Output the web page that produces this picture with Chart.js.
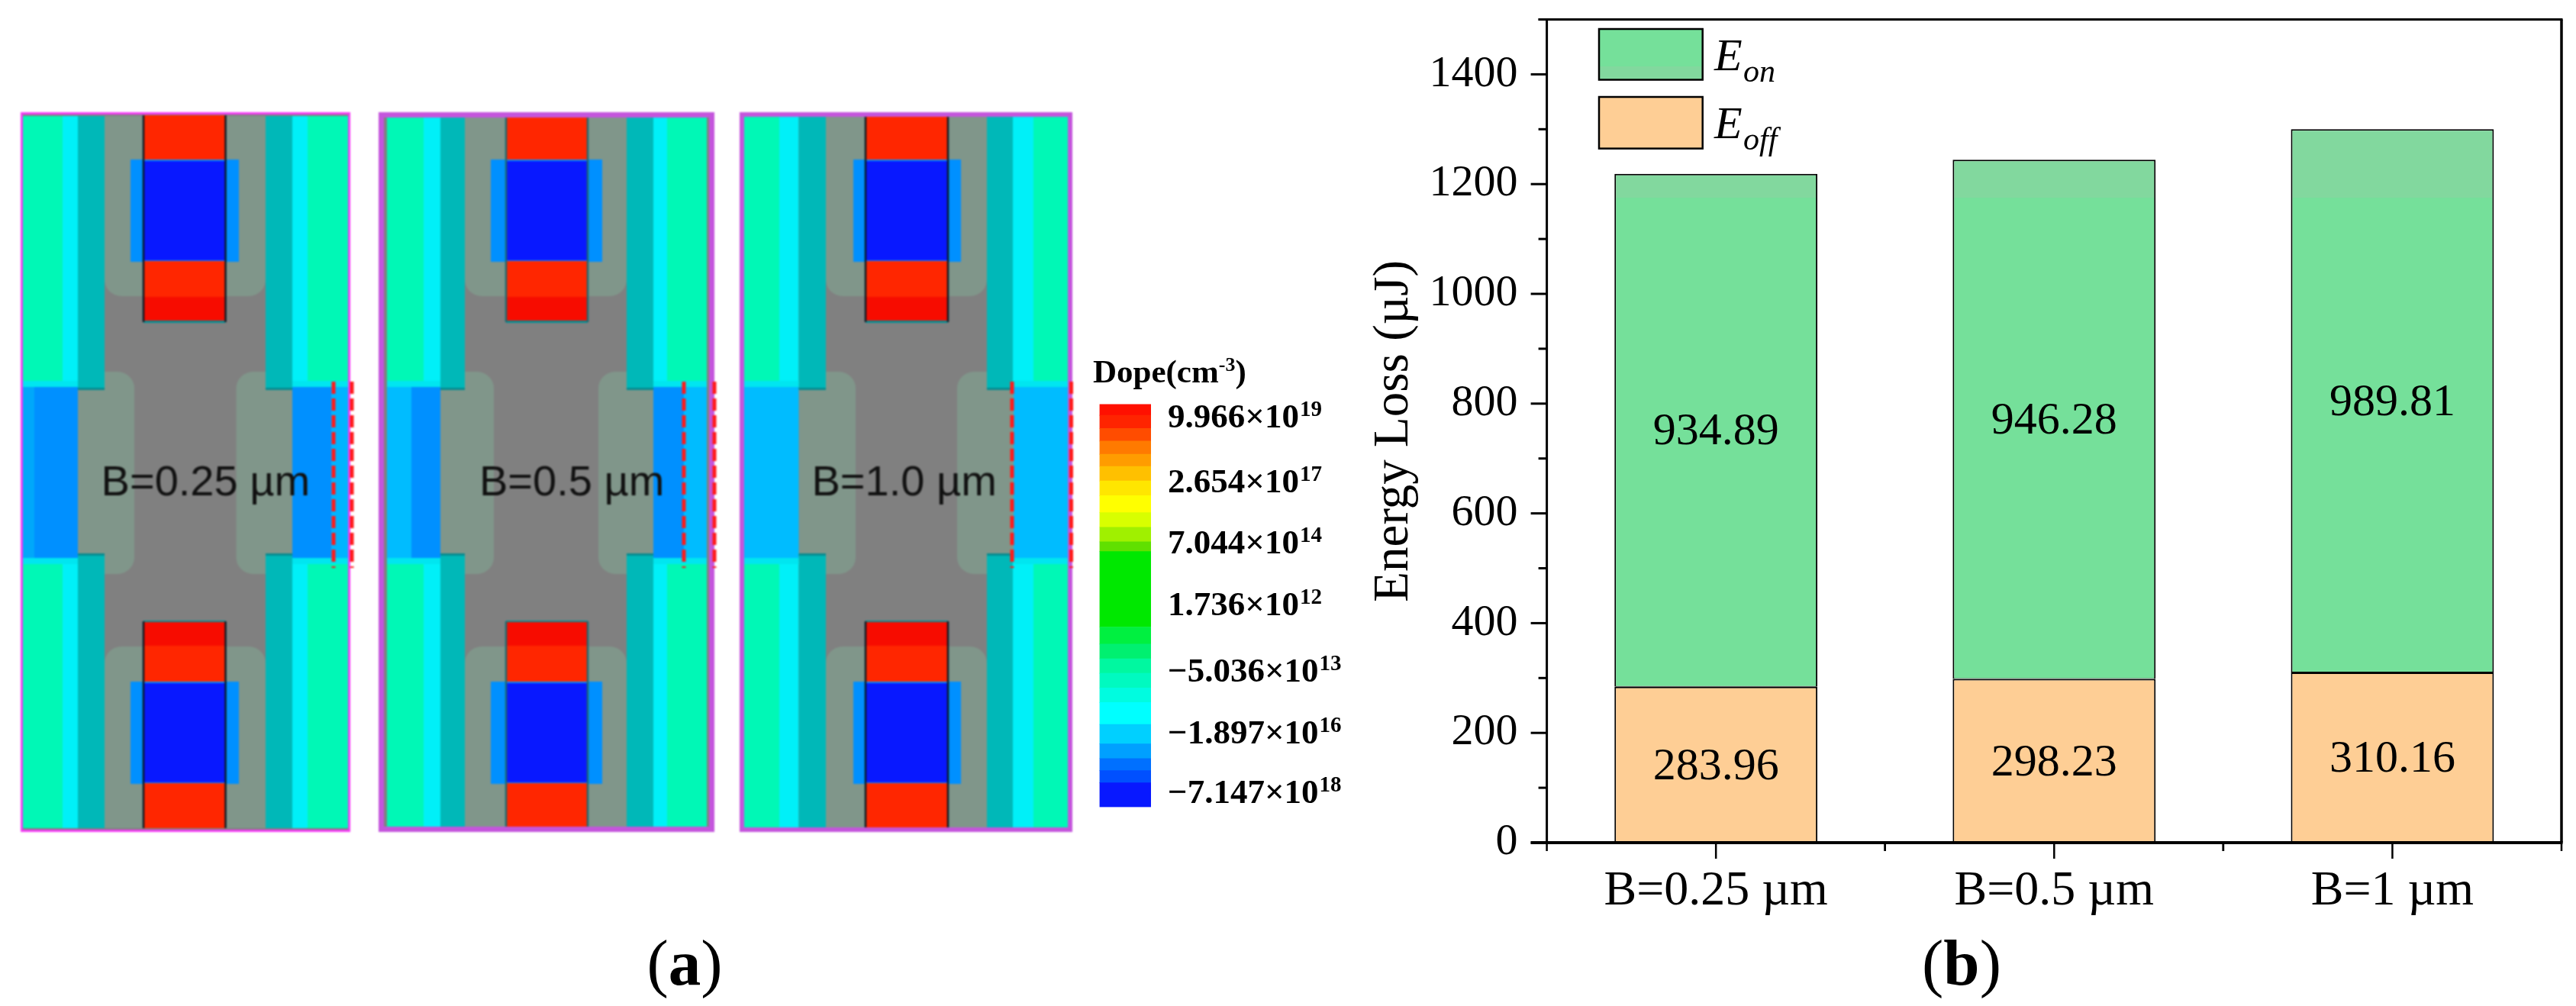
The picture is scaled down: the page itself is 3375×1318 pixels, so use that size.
<!DOCTYPE html>
<html>
<head>
<meta charset="utf-8">
<title>Energy loss</title>
<script src="https://cdn.jsdelivr.net/npm/chart.js@4/dist/chart.umd.js"></script>
<style>
  html, body { margin: 0; background: #fff; }
  #page { position: relative; width: 3375px; height: 1318px; overflow: hidden; }
  canvas { position: absolute; }
  #panel0, #panel1, #panel2 { filter: blur(0.9px); }
  .note { position: absolute; font-family: "Liberation Serif", serif; color: #000; line-height: 1; white-space: nowrap; }
  .caption { font-size: 85px; width: 200px; text-align: center; top: 1219px; }
  .dope { font-size: 43px; font-weight: bold; left: 1432px; top: 465px; }
  .dope sup { font-size: 26px; line-height: 0; }
</style>
</head>
<body>
<div id="page">
  <canvas id="panel0"></canvas>
  <canvas id="panel1"></canvas>
  <canvas id="panel2"></canvas>
  <canvas id="dopeBar"></canvas>
  <canvas id="energy"></canvas>
  <div class="note dope">Dope(cm<sup>-3</sup>)</div>
  <div class="note caption" style="left:797px">(<b>a</b>)</div>
  <div class="note caption" style="left:2470px">(<b>b</b>)</div>
</div>
<script>
const categorias = ["B=0.25 µm", "B=0.5 µm", "B=1 µm"];
const eOff = [283.96, 298.23, 310.16];
const eOn = [934.89, 946.28, 989.81];
const yTicksMax = 1500;

// colour bar, bottom band first
const dopeBands = [50, 25, 25, 30, 40, 45, 30, 30, 30, 30, 35, 155, 20, 30, 30, 35, 30, 30, 25, 27, 26, 27, 23];
const dopeColors = ["#0818ff", "#0050ff", "#0070ff", "#00a0ff", "#00d0ff", "#00ffff", "#00fce0", "#00fac0", "#00f8a0", "#00f070", "#00f040", "#00e800", "#60e000", "#a0f000", "#d8ff00", "#ffff00", "#ffe600", "#ffc000", "#ff9c00", "#ff7a00", "#ff4c00", "#ff2400", "#ff1000"];
const dopeTickValues = [32, 155, 282, 418, 545, 670, 804];
const dopeMantissa = ["−7.147×10", "−1.897×10", "−5.036×10", "1.736×10", "7.044×10", "2.654×10", "9.966×10"];
const dopeExponent = ["18", "16", "13", "12", "14", "17", "19"];

// device maps, one table per value of B (lengths along the cell)
const panelLabels = ["B=0.25 µm", "B=0.5 µm", "B=1.0 µm"];
const panelLefts = [27, 496, 968.6];
const panelWidths = [432, 440, 436];
const panelBorders = [3, 7, 6];
const panelBorderColors = ["#f53cf5", "#c455dc", "#c455dc"];
const panelLineColors = ["#0a1a24", "#1c6a70", "#0a1a24"];
const stripsLeft = [[3, 55, 75, 110], [11, 59, 81, 113], [6, 52, 77.5, 113]];
const stripsRight = [[321, 356, 376, 429], [325, 360, 378, 430], [324, 358, 385, 430.5]];
const redSpans = [[161, 268.5], [167, 274], [165, 273]];
const shoulderSpans = [[144, 286], [147, 293], [149, 290]];
const lobeLeft = [[75, 149], [81, 151], [77.5, 152]];
const lobeRight = [[282.5, 356], [288, 360], [285, 359]];
const bandLeft = [[[3, 18, "#00a8fa"], [18, 75, "#0090ff"]], [[11, 43, "#00bcff"], [43, 81, "#0090ff"]], [[6, 77.5, "#00bcff"]]];
const bandRight = [[[356, 407, "#0090ff"], [407, 429, "#00b4ff"]], [[360, 400, "#0090ff"], [400, 430, "#00bcff"]], [[359, 431, "#00bcff"]]];
const dashSpans = [[410, 434], [400, 440], [357, 434.5]];
const labelStarts = [105.6, 132, 94.5];
const panelHeight = 943;

function devicePlugin(i) {
  return {
    id: "device" + i,
    beforeDatasetsDraw(chart) {
      const { ctx, scales: { x, y } } = chart;
      const w = panelWidths[i];
      const box = (x0, x1, y0, y1, color, r) => {
        const px = x.getPixelForValue(x0), py = y.getPixelForValue(y0);
        const pw = x.getPixelForValue(x1) - px, ph = y.getPixelForValue(y1) - py;
        ctx.fillStyle = color;
        ctx.beginPath();
        ctx.roundRect(px, py, pw, ph, r || 0);
        ctx.fill();
      };
      const vline = (xv, y0, y1, color, width) => {
        ctx.strokeStyle = color;
        ctx.lineWidth = width;
        ctx.beginPath();
        ctx.moveTo(x.getPixelForValue(xv), y.getPixelForValue(y0));
        ctx.lineTo(x.getPixelForValue(xv), y.getPixelForValue(y1));
        ctx.stroke();
      };
      const green = "#00f8b6", cyan = "#00f0f8", teal = "#00b8b8", grey = "#808080", pad = "#80968a";
      const outline = "#068c90";
      const [l0, l1, l2, l3] = stripsLeft[i];
      const [r0, r1, r2, r3] = stripsRight[i];

      box(0, w, 0, panelHeight, grey);
      // pale areas around the implants and the channel
      box(l3, r0, 5, 241, pad, [0, 0, 22, 22]);
      box(l3, r0, 700, 938, pad, [22, 22, 0, 0]);
      box(lobeLeft[i][0], lobeLeft[i][1], 340, 605, pad, 22);
      box(lobeRight[i][0], lobeRight[i][1], 340, 605, pad, 22);
      // middle band
      bandLeft[i].concat(bandRight[i]).forEach(b => box(b[0], b[1], 358, 586, b[2]));
      // strips above and below the band
      [[5, 356], [588, 938]].forEach(([a, b]) => {
        box(l0, l1, a, b, green);
        box(l1, l2, a, b, cyan);
        box(r1, r2, a, b, cyan);
        box(r2, r3, a, b, green);
      });
      [[5, 363], [579, 938]].forEach(([a, b]) => {
        box(l2, l3, a, b, teal);
        box(r0, r1, a, b, teal);
      });
      box(l0, l2, 352, 360, "#00e6f0");
      box(r1, r3, 352, 360, "#00e6f0");
      box(l0, l2, 584, 592, "#00e6f0");
      box(r1, r3, 584, 592, "#00e6f0");
      box(l2, l3, 361, 364, outline);
      box(r0, r1, 361, 364, outline);
      box(l2, l3, 578, 581, outline);
      box(r0, r1, 578, 581, outline);
      // contacts, top and bottom
      const [s0, s1] = shoulderSpans[i];
      const [c0, c1] = redSpans[i];
      box(c0, c1, 273, 276, outline);
      box(c0, c1, 666, 669, outline);
      box(s0, s1, 62, 196, "#0090ff");
      box(s0, s1, 746, 880, "#0090ff");
      box(c0, c1, 4, 62, "#ff2600");
      box(c0, c1, 195, 242, "#ff2600");
      box(c0, c1, 242, 273, "#f70c00");
      box(c0, c1, 668, 699, "#f70c00");
      box(c0, c1, 699, 746, "#ff2600");
      box(c0, c1, 879, 938, "#ff2600");
      box(c0, c1, 64, 194, "#0818ff");
      box(c0, c1, 748, 878, "#0818ff");
      vline(c0, 4, 275, panelLineColors[i], 2.5);
      vline(c1, 4, 275, panelLineColors[i], 2.5);
      vline(c0, 667, 938, panelLineColors[i], 2.5);
      vline(c1, 667, 938, panelLineColors[i], 2.5);
      // outer frame
      const bw = panelBorders[i];
      ctx.strokeStyle = panelBorderColors[i];
      ctx.lineWidth = bw;
      ctx.strokeRect(x.getPixelForValue(bw / 2), y.getPixelForValue(bw / 2), x.getPixelForValue(w - bw / 2) - x.getPixelForValue(bw / 2), y.getPixelForValue(panelHeight - bw / 2) - y.getPixelForValue(bw / 2));
      // dashed cut lines
      ctx.setLineDash([16, 6]);
      dashSpans[i].forEach(d => vline(d, 353, 597, "#ff1a1a", 5));
      ctx.setLineDash([]);
      // label
      ctx.fillStyle = "#111";
      ctx.font = '56px "Liberation Sans"';
      ctx.textAlign = "left";
      ctx.textBaseline = "alphabetic";
      ctx.fillText(panelLabels[i], x.getPixelForValue(labelStarts[i]), y.getPixelForValue(502));
    },
  };
}

function createPanels() {
  panelLabels.forEach((label, i) => {
    const canvas = document.getElementById("panel" + i);
    const margin = 6;
    canvas.width = panelWidths[i] + 2 * margin;
    canvas.height = panelHeight;
    canvas.style.left = panelLefts[i] - margin + "px";
    canvas.style.top = "147px";
    new Chart(canvas, {
      type: "scatter",
      data: { datasets: [] },
      plugins: [devicePlugin(i)],
      options: {
        responsive: false,
        animation: false,
        devicePixelRatio: 1,
        layout: { padding: 0 },
        scales: {
          x: { type: "linear", display: false, min: -margin, max: panelWidths[i] + margin },
          y: { type: "linear", display: false, min: 0, max: panelHeight, reverse: true },
        },
        plugins: { legend: { display: false }, tooltip: { enabled: false } },
      },
    });
  });
}

const dopeAxisText = {
  id: "dopeAxisText",
  afterDatasetsDraw(chart) {
    const { ctx, chartArea: a, scales: { y } } = chart;
    ctx.save();
    ctx.fillStyle = "#000";
    ctx.textBaseline = "alphabetic";
    ctx.textAlign = "left";
    dopeTickValues.forEach((v, i) => {
      const py = y.getPixelForValue(v) + 15;
      ctx.font = 'bold 45px "Liberation Serif"';
      ctx.fillText(dopeMantissa[i], a.right + 22, py);
      const w = ctx.measureText(dopeMantissa[i]).width;
      ctx.font = 'bold 29px "Liberation Serif"';
      ctx.fillText(dopeExponent[i], a.right + 22 + w + 1, py - 15);
    });
    ctx.restore();
  },
};

function createDopeBar() {
  const canvas = document.getElementById("dopeBar");
  canvas.width = 340;
  canvas.height = 600;
  canvas.style.left = "1432px";
  canvas.style.top = "500px";
  new Chart(canvas, {
    type: "bar",
    plugins: [dopeAxisText],
    data: {
      labels: ["Dope"],
      datasets: dopeBands.map((v, i) => ({
        data: [v],
        backgroundColor: dopeColors[i],
        borderWidth: 0,
        barPercentage: 1,
        categoryPercentage: 1,
      })),
    },
    options: {
      responsive: false,
      animation: false,
      devicePixelRatio: 1,
      layout: { padding: { left: 8.5, top: 29.4, bottom: 42.5, right: 0 } },
      scales: {
        x: { stacked: true, display: false },
        y: {
          stacked: true,
          position: "right",
          min: 0,
          max: 828,
          grid: { display: false, drawTicks: false },
          border: { display: false },
          afterBuildTicks: s => { s.ticks = dopeTickValues.map(value => ({ value })); },
          afterFit: s => { s.width = 264; s.paddingTop = 0; s.paddingBottom = 0; },
          ticks: { display: false },
        },
      },
      plugins: { legend: { display: false }, tooltip: { enabled: false } },
    },
  });
}

const greenSolid = "#75e09a";
const greenPale = "#82d89e";
const orange = "#fece95";
const paleFrom = 1175;

function eOnFill(context) {
  const chart = context.chart;
  if (!chart.chartArea) return greenSolid;
  const y = chart.scales.y;
  const top = y.getPixelForValue(yTicksMax), bottom = y.getPixelForValue(0);
  const cut = (yTicksMax - paleFrom) / yTicksMax;
  const g = chart.ctx.createLinearGradient(0, top, 0, bottom);
  g.addColorStop(0, greenPale);
  g.addColorStop(cut, greenPale);
  g.addColorStop(cut, greenSolid);
  g.addColorStop(1, greenSolid);
  return g;
}

const energyFrame = {
  id: "energyFrame",
  afterDatasetsDraw(chart) {
    const { ctx, chartArea: a, scales: { x, y } } = chart;
    ctx.save();
    ctx.strokeStyle = "#000";
    const seg = (x0, y0, x1, y1, w) => {
      ctx.lineWidth = w;
      ctx.beginPath();
      ctx.moveTo(x0, y0);
      ctx.lineTo(x1, y1);
      ctx.stroke();
    };
    // y ticks, long on the labelled ones
    y.ticks.forEach(t => {
      const py = y.getPixelForValue(t.value);
      seg(a.left, py, a.left - (t.value % 200 === 0 ? 21 : 11), py, 3);
    });
    // x ticks: long at the categories, short between them
    categorias.forEach((c, i) => {
      const px = x.getPixelForTick(i);
      seg(px, a.bottom, px, a.bottom + 21, 2.5);
      const half = (x.getPixelForTick(1) - x.getPixelForTick(0)) / 2;
      seg(px - half, a.bottom, px - half, a.bottom + 11, 2.5);
      seg(px + half, a.bottom, px + half, a.bottom + 11, 2.5);
    });
    seg(a.left - 11, a.top, a.right + 1.5, a.top, 3);
    seg(a.left, a.top, a.left, a.bottom, 3);
    seg(a.right, a.top, a.right, a.bottom, 3.5);
    seg(a.left - 21, a.bottom, a.right + 1.5, a.bottom, 4);

    // values inside the bars
    ctx.fillStyle = "#000";
    ctx.font = '60px "Liberation Serif"';
    ctx.textAlign = "center";
    ctx.textBaseline = "middle";
    [eOff, eOn].forEach((serie, d) => {
      chart.getDatasetMeta(d).data.forEach((bar, i) => {
        const c = bar.getCenterPoint();
        ctx.fillText(serie[i].toFixed(2), c.x, c.y + 3);
      });
    });

    // legend
    const sw = (y0, y1, draw) => {
      ctx.fillStyle = draw[0];
      ctx.fillRect(335, y0, 135.7, y1 - y0);
      if (draw[1]) {
        ctx.fillStyle = draw[1];
        ctx.fillRect(335, y0 + 49, 135.7, y1 - y0 - 49);
      }
      ctx.lineWidth = 2.5;
      ctx.strokeRect(335, y0, 135.7, y1 - y0);
    };
    sw(38, 104.5, [greenSolid, greenPale]);
    sw(127, 194.6, [orange]);
    ctx.fillStyle = "#000";
    ctx.textAlign = "left";
    ctx.textBaseline = "alphabetic";
    ctx.font = 'italic 60px "Liberation Serif"';
    ctx.fillText("E", 486, 91.5);
    ctx.fillText("E", 486, 181);
    ctx.font = 'italic 42px "Liberation Serif"';
    ctx.fillText("on", 524, 107);
    ctx.fillText("off", 524, 196);
    ctx.restore();
  },
};

function createEnergyChart() {
  const canvas = document.getElementById("energy");
  canvas.width = 1615;
  canvas.height = 1318;
  canvas.style.left = "1760px";
  canvas.style.top = "0";
  new Chart(canvas, {
    type: "bar",
    plugins: [energyFrame],
    data: {
      labels: categorias,
      datasets: [
        { label: "Eoff", data: eOff, backgroundColor: orange, borderColor: "#000", borderWidth: 2, borderSkipped: false },
        { label: "Eon", data: eOn, backgroundColor: eOnFill, borderColor: "#000", borderWidth: { top: 2, left: 2, right: 2, bottom: 1 }, borderSkipped: false },
      ],
    },
    options: {
      responsive: false,
      animation: false,
      devicePixelRatio: 1,
      datasets: { bar: { barPercentage: 0.6, categoryPercentage: 1 } },
      layout: { padding: { top: 25.5, right: 19, left: 28, bottom: 0 } },
      scales: {
        x: {
          stacked: true,
          grid: { display: false, drawTicks: false },
          border: { display: false },
          afterFit: s => { s.height = 214; s.paddingLeft = 0; s.paddingRight = 0; },
          ticks: {
            padding: 26,
            maxRotation: 0,
            color: "#000",
            font: { family: "Liberation Serif", size: 64 },
          },
        },
        y: {
          stacked: true,
          min: 0,
          max: yTicksMax,
          grid: { display: false, drawTicks: false },
          border: { display: false },
          afterFit: s => { s.width = 238.6; s.paddingTop = 0; s.paddingBottom = 0; },
          title: {
            display: true,
            text: "Energy Loss (µJ)",
            color: "#000",
            padding: 0,
            font: { family: "Liberation Serif", size: 65 },
          },
          ticks: {
            stepSize: 100,
            autoSkip: false,
            padding: 38,
            color: "#000",
            font: { family: "Liberation Serif", size: 58 },
            callback: v => (v % 200 === 0 ? v : ""),
          },
        },
      },
      plugins: { legend: { display: false }, tooltip: { enabled: false } },
    },
  });
}

createPanels();
createDopeBar();
createEnergyChart();
</script>
</body>
</html>
